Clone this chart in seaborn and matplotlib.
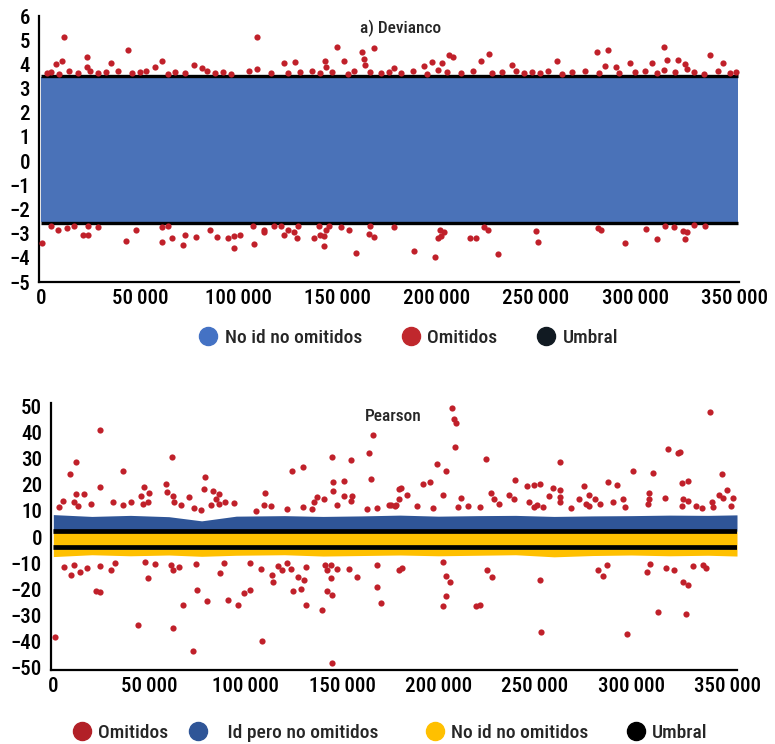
import matplotlib
matplotlib.use("Agg")
import matplotlib.pyplot as plt
from matplotlib.lines import Line2D
from matplotlib.ticker import FuncFormatter, MultipleLocator
from matplotlib import font_manager
import seaborn as sns
import pandas as pd

# ---------------- data ----------------
# a) Devianco: residuals above the upper threshold (omitidos)
dev_hi_x = [11500, 109400, 44100, 23200, 149500, 162000, 168000, 163300, 163600, 10960,
            7600, 23200, 35400, 61000, 57600, 77400, 81600, 109000, 122600, 128300,
            143400, 152900, 143900, 178400, 314800, 280800, 286200, 226400, 338000, 206200,
            207900, 197300, 202400, 222200, 260600, 316100, 321500, 297600, 308400, 344200,
            284800, 290400, 193300, 237700, 200300, 314400, 325200, 326200,
            3000, 5000, 9000, 14000, 19000, 25000, 29000, 33000, 39000, 46000,
            50000, 53000, 64000, 68000, 73000, 84000, 88000, 92000, 96000, 105000,
            116000, 125000, 131000, 137000, 141000, 147000, 155000, 158000, 166000, 172000,
            176000, 182000, 188000, 195000, 205000, 212000, 218000, 228000, 233000, 240000,
            244000, 248000, 252000, 256000, 263000, 268000, 275000, 282000, 292000, 300000,
            305000, 311000, 320000, 330000, 335000, 342000, 348000, 351000]
dev_hi_y = [5.15, 5.15, 4.60, 4.32, 4.73, 4.50, 4.66, 4.22, 3.97, 4.13,
            4.02, 3.88, 4.06, 4.15, 3.88, 3.97, 3.84, 3.81, 4.04, 4.09,
            4.15, 4.13, 3.88, 3.84, 4.73, 4.53, 4.61, 4.43, 4.39, 4.39,
            4.29, 4.11, 4.06, 4.13, 4.13, 4.18, 4.18, 4.06, 4.04, 4.04,
            3.95, 3.90, 3.95, 3.99, 3.78, 3.77, 4.02, 3.81,
            3.65, 3.70, 3.62, 3.72, 3.66, 3.74, 3.63, 3.69, 3.71, 3.64,
            3.68, 3.73, 3.62, 3.70, 3.66, 3.72, 3.64, 3.69, 3.62, 3.71,
            3.66, 3.63, 3.70, 3.74, 3.65, 3.68, 3.62, 3.72, 3.67, 3.64,
            3.70, 3.66, 3.73, 3.62, 3.69, 3.65, 3.71, 3.64, 3.68, 3.72,
            3.63, 3.70, 3.66, 3.74, 3.62, 3.68, 3.71, 3.65, 3.63, 3.69,
            3.72, 3.64, 3.67, 3.70, 3.62, 3.73, 3.66, 3.68]

# a) Devianco: residuals below the lower threshold (omitidos)
dev_lo_x = [800, 5000, 8700, 13100, 16800, 21500, 23900, 23900, 28900, 43100,
            48000, 61000, 64000, 61300, 66300, 71600, 72900, 78300, 85500, 88900,
            94300, 97300, 97600, 100600, 106900, 107400, 112500, 112800, 117500, 121200,
            122600, 124900, 127900, 129300, 129900, 138000, 140600, 141100, 142800, 142800,
            143900, 145600, 151500, 155700, 159100, 166300, 165800, 168300, 178400,
            188500, 199000, 200300, 202000, 203400, 201700, 216800, 219700, 223600, 225600,
            230900, 250000, 250800, 281100, 282800, 294900, 305500, 311100, 315100, 319800,
            324000, 326200, 325200, 329600, 335300]
dev_lo_y = [-3.38, -2.67, -2.83, -2.77, -2.69, -3.05, -3.05, -2.69, -2.73, -3.31,
            -2.87, -2.73, -2.69, -3.33, -3.19, -3.45, -3.05, -3.15, -2.83, -3.15,
            -3.19, -3.60, -3.08, -3.05, -2.69, -3.41, -2.83, -2.94, -2.69, -2.69,
            -3.05, -2.87, -2.94, -3.19, -2.69, -3.19, -2.69, -3.05, -3.10, -3.52,
            -2.87, -2.69, -2.73, -2.87, -3.79, -2.67, -3.01, -3.15, -2.73,
            -3.70, -3.97, -3.19, -3.08, -2.94, -2.83, -3.19, -3.19, -2.73, -2.87,
            -3.83, -2.91, -3.35, -2.77, -2.87, -3.38, -2.80, -3.21, -2.69, -2.73,
            -2.91, -2.94, -3.24, -2.64, -2.69]

# a) Devianco: dense cloud of non identified points and thresholds
dev_band_x = [0, 352000]
dev_band_lo = [-2.52, -2.52]
dev_band_hi = [3.47, 3.47]
dev_umbral = [3.5, -2.55]

# Pearson: residuals above the thresholds (omitidos)
pear_hi_x = [24000, 11900, 8500, 24000, 36100, 61700, 78800, 78400, 82700, 47000,
             58500, 58900, 11900, 15900, 5000, 2700, 10700, 12800, 19700, 30900,
             36100, 40400, 45600, 46500, 49900, 49100, 62000, 62900, 66300, 70300,
             72900, 76700, 81900, 86200, 84500, 86200, 89100, 94000, 105200, 109800,
             109500, 112900, 121600, 123700, 129900, 129400, 134500, 135400, 140300, 136800,
             144900, 145400, 145400, 150900, 154400, 150900, 155300, 147500, 154400, 163900,
             166200, 165100, 163000, 167900, 174200, 177700, 179400, 179400,
             207100, 208300, 209300, 208800, 199300, 204100, 192100, 195500, 224900, 239900,
             180300, 183400, 175100, 177200, 188900, 197200, 202400, 211700, 210000, 215200,
             221700, 227300, 228600, 231200, 236400, 239000, 245900, 249400, 252500, 246800,
             249400, 251100, 254500, 259400, 257600, 263200, 263200, 263200, 263200, 268700,
             275600, 273200, 276700, 278400, 278400, 281300, 283900, 288200, 292900, 290800,
             295700, 296900, 300800, 311200, 309500, 309500, 309000, 317600, 319300, 324500,
             325400, 326200, 329700, 327100, 329700, 326200, 333700, 336600, 340900, 347000,
             349900, 345800, 347800, 352700, 341800, 342600, 352100]
pear_hi_y = [41.1, 28.8, 24.1, 19.3, 25.4, 30.5, 22.9, 18.4, 17.8, 19.1,
             20.4, 17.2, 16.5, 16.5, 14.0, 11.5, 13.4, 11.9, 12.7, 13.6,
             12.1, 13.6, 15.6, 12.7, 16.8, 13.6, 15.6, 13.3, 12.2, 15.3,
             11.0, 10.5, 12.1, 12.7, 14.6, 16.5, 13.6, 13.1, 10.1, 16.8,
             12.1, 11.9, 10.9, 25.4, 26.7, 11.5, 10.9, 13.6, 14.4, 15.3,
             30.5, 21.0, 17.8, 21.6, 29.6, 15.9, 15.6, 12.1, 14.0, 32.1,
             39.2, 22.4, 10.9, 11.1, 12.1, 12.4, 18.4, 14.6,
             49.6, 45.3, 43.8, 34.7, 28.0, 25.4, 20.3, 21.2, 29.8, 22.0,
             18.7, 16.2, 12.1, 11.9, 11.9, 11.3, 16.2, 14.9, 11.5, 11.9,
             11.5, 17.0, 14.6, 12.7, 16.2, 14.6, 19.5, 20.0, 20.3, 13.4,
             11.5, 12.4, 11.5, 18.7, 15.6, 28.8, 18.2, 15.3, 13.4, 11.0,
             19.5, 14.4, 12.7, 11.9, 16.2, 14.6, 12.7, 21.0, 20.0, 13.4,
             14.6, 11.5, 25.4, 24.5, 17.0, 14.6, 12.7, 14.9, 33.7, 32.1,
             32.6, 20.7, 21.6, 14.4, 14.0, 11.9, 11.9, 11.1, 47.8, 24.1,
             18.2, 16.2, 14.9, 14.9, 13.4, 11.5, 11.9]

# Pearson: residuals below the thresholds (omitidos)
pear_lo_x = [1000, 5500, 9300, 10700, 14100, 17600, 22300, 24500, 24500, 29700,
             32100, 43900, 47700, 49100, 52800, 61100, 62000, 62300, 65400, 67200,
             72400, 74100, 74600, 79800, 86700, 88800, 90500, 95700, 99100, 102200,
             102200, 107800, 108600, 113800, 114300, 116700, 119000, 121600, 123300, 124700,
             126800, 128800, 130200, 131100, 131100, 139700, 140900, 142000, 142300, 144900,
             144400, 144400, 144600, 147100, 153500, 157500, 168200, 168200, 170300, 179400,
             181000, 202400, 204100, 205900, 204100, 202400, 219700, 221700, 225200, 227800,
             252800, 253300, 283000, 285300, 287400, 297800, 308100, 309800, 314100, 318100,
             322300, 327100, 329700, 328500, 332300, 337400, 338800]
pear_lo_y = [-38.4, -11.4, -14.6, -10.6, -13.3, -11.8, -20.6, -20.9, -11.1, -12.6,
             -10.1, -33.9, -9.7, -15.8, -10.3, -10.7, -12.8, -34.8, -11.6, -26.2,
             -43.7, -10.3, -20.5, -24.4, -13.9, -10.1, -24.0, -26.2, -21.5, -9.9,
             -20.3, -12.3, -39.7, -14.6, -17.4, -11.1, -12.6, -10.1, -12.3, -20.6,
             -15.5, -19.8, -16.6, -11.5, -26.2, -27.8, -10.6, -12.8, -20.6, -22.1,
             -10.6, -15.8, -48.5, -12.2, -12.2, -15.5, -19.0, -10.7, -25.3, -12.6,
             -12.0, -9.7, -14.8, -17.4, -22.7, -26.3, -26.5, -25.9, -12.6, -15.5,
             -16.4, -36.4, -12.8, -14.8, -10.6, -37.1, -13.5, -10.3, -28.6, -12.0,
             -12.6, -17.4, -18.3, -29.5, -11.1, -10.6, -11.9]

# Pearson: dense clouds (identified but kept / not identified) and thresholds
pear_band_x = [0, 20000, 40000, 60000, 77000, 95000, 120000, 140000, 160000, 180000,
               200000, 220000, 240000, 260000, 280000, 300000, 320000, 340000, 355000]
pear_blue_hi = [8.6, 7.9, 8.3, 7.8, 6.2, 8.0, 8.2, 7.9, 8.1, 8.4,
                8.0, 8.2, 8.3, 7.9, 8.1, 8.2, 8.4, 8.3, 8.5]
pear_yel_lo = [-7.5, -6.8, -7.2, -6.9, -7.4, -7.0, -6.8, -7.3, -7.1, -6.9,
               -7.2, -7.0, -6.8, -7.6, -7.1, -6.9, -7.2, -7.0, -7.3]
pear_umbral = [2.2, -3.8]

x_ticks = [0, 50000, 100000, 150000, 200000, 250000, 300000, 350000]

# ---------------- style ----------------
sns.set_style("white")
# pick a narrow face when one is installed, the reference uses condensed type
installed = {f.name for f in font_manager.fontManager.ttflist}
narrow = [f for f in ["Liberation Sans Narrow", "Roboto Condensed", "Open Sans Condensed"]
          if f in installed]
plt.rcParams['font.family'] = narrow + ['Liberation Sans', 'DejaVu Sans']
plt.rcParams['font.weight'] = 'medium'
plt.rcParams['axes.unicode_minus'] = True

c_dev_blue = "#4A72B8"
c_red = "#C0202A"
c_pear_blue = "#2F5597"
c_yellow = "#FFC000"
c_black = "#000000"

fig = plt.figure(figsize=(7.75, 7.44), dpi=100)
ax1 = fig.add_axes([39 / 775, 1 - 282 / 744, 700 / 775, 266 / 744])
ax2 = fig.add_axes([51 / 775, 1 - 670 / 744, 686 / 775, 267 / 744])

thousands = FuncFormatter(lambda v, _: f"{int(v):,}".replace(",", "\u2009"))


def style_axes(ax):
    for side in ["top", "right"]:
        ax.spines[side].set_visible(False)
    for side in ["left", "bottom"]:
        ax.spines[side].set_color("black")
        ax.spines[side].set_linewidth(1.6)
    ax.set_xticks(x_ticks)
    ax.xaxis.set_major_formatter(thousands)
    ax.tick_params(axis="both", length=0, labelsize=15, colors="black")
    ax.tick_params(axis="y", pad=6.5)
    ax.tick_params(axis="x", pad=5)
    ax.set_xlabel("")
    ax.set_ylabel("")
    ax.grid(False)


# ---- a) Devianco ----
ax1.fill_between(dev_band_x, dev_band_lo, dev_band_hi, color=c_dev_blue, lw=0, zorder=1)
ax1.hlines(dev_umbral, dev_band_x[0], dev_band_x[-1], color=c_black, lw=2.4, zorder=2)
dev_red = pd.DataFrame({"x": dev_hi_x + dev_lo_x, "y": dev_hi_y + dev_lo_y})
sns.scatterplot(data=dev_red, x="x", y="y", ax=ax1, color=c_red, s=20,
                linewidth=0, zorder=3, legend=False)
ax1.set_xlim(-900, 352500)
ax1.set_ylim(-5, 6)
ax1.yaxis.set_major_locator(MultipleLocator(1))
style_axes(ax1)
ax1.text(0.517, 0.955, "a) Devianco", transform=ax1.transAxes, ha="center",
         va="center", fontsize=12.5)

# ---- Pearson ----
ax2.fill_between(pear_band_x, pear_umbral[0], pear_blue_hi, color=c_pear_blue, lw=0, zorder=1)
ax2.fill_between(pear_band_x, pear_yel_lo, pear_umbral[0], color=c_yellow, lw=0, zorder=1)
ax2.hlines(pear_umbral, pear_band_x[0], pear_band_x[-1], color=c_black, lw=3.4, zorder=2)
pear_red = pd.DataFrame({"x": pear_hi_x + pear_lo_x, "y": pear_hi_y + pear_lo_y})
sns.scatterplot(data=pear_red, x="x", y="y", ax=ax2, color=c_red, s=20,
                linewidth=0, zorder=3, legend=False)
ax2.set_xlim(-1200, 355000)
ax2.set_ylim(-51, 51.4)
ax2.set_yticks([-50, -40, -30, -20, -10, 0, 10, 20, 30, 40, 50])
style_axes(ax2)
ax2.text(0.4985, 0.951, "Pearson", transform=ax2.transAxes, ha="center",
         va="center", fontsize=12.5)


# ---- legends ----
def dot(color):
    return Line2D([], [], marker="o", linestyle="", markersize=13,
                  markerfacecolor=color, markeredgecolor=color)


fig.legend([dot("#4472C4"), dot("#C0282D"), dot("#111A22")],
           ["No id no omitidos", "Omitidos", "Umbral"],
           loc="center", bbox_to_anchor=(0.527, 1 - 338 / 744), ncol=3,
           frameon=False, fontsize=14, handlelength=1.0, handletextpad=0.35,
           columnspacing=2.0)

# the reference legend has uneven gaps between its entries
fig.legend([dot("#B22027"), dot(c_pear_blue), dot(c_yellow), dot("#000000")],
           ["Omitidos", "   Id pero no omitidos      ", "No id no omitidos    ", "Umbral"],
           loc="center", bbox_to_anchor=(0.503, 1 - 733 / 744), ncol=4,
           frameon=False, fontsize=14, handlelength=1.0, handletextpad=0.35,
           columnspacing=1.0)

fig.savefig("out.png", dpi=100)
